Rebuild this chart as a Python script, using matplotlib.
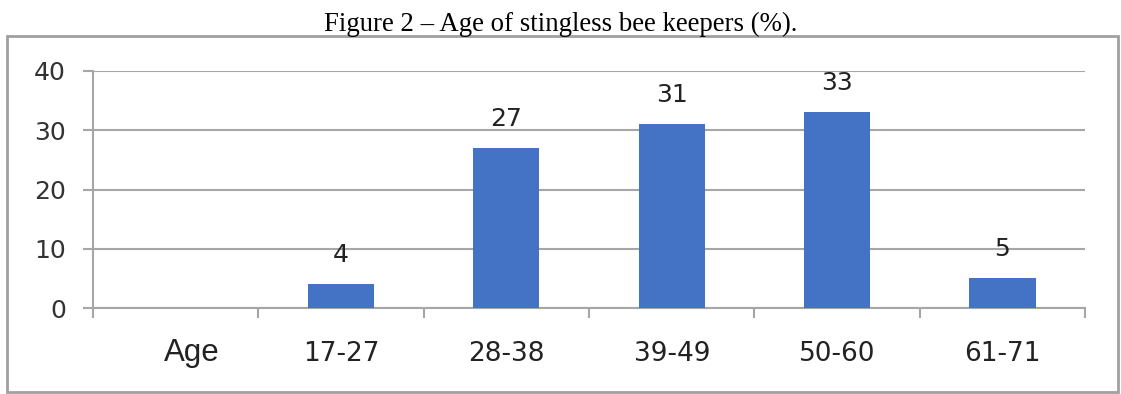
import matplotlib.pyplot as plt
from matplotlib.patches import Rectangle

# Age groups of stingless bee keepers (%)
age_groups = ['17-27', '28-38', '39-49', '50-60', '61-71']
percent = [4, 27, 31, 33, 5]
y_ticks = [0, 10, 20, 30, 40]

bar_color = '#4472C4'
grid_color = '#a6a6a6'

plt.rcParams['font.family'] = 'DejaVu Sans'

fig = plt.figure(figsize=(11.21, 3.94), dpi=100)

# outer frame around the chart
fig.patches.append(Rectangle((0.0062, 0.005), 0.991, 0.904, transform=fig.transFigure,
                             fill=False, edgecolor='#a0a0a0', linewidth=2))

fig.text(0.5, 0.921, 'Figure 2 \u2013 Age of stingless bee keepers (%).',
         ha='center', va='baseline', family='Liberation Serif', fontsize=19.3)

ax = fig.add_axes([0.083, 0.218, 0.885, 0.602])

# first slot is kept for the "Age" caption, bars start at slot 1
x = list(range(1, len(age_groups) + 1))
ax.bar(x, percent, width=0.4, color=bar_color, zorder=3)

for xi, v in zip(x, percent):
    ax.annotate(str(v), (xi, v), xytext=(0, 16), textcoords='offset points',
                ha='center', va='baseline', fontsize=18, color='#222222')

ax.set_xlim(-0.5, len(age_groups) + 0.5)
ax.set_ylim(0, 40)
ax.set_yticks(y_ticks)
ax.tick_params(axis='y', length=7.5, width=1.5, color=grid_color, pad=12,
               labelsize=18, labelcolor='#333333')
ax.grid(axis='y', color=grid_color, linewidth=1.5, zorder=0)

# ticks between categories, labels in the middle
ax.set_xticks([i + 0.5 for i in range(-1, len(age_groups) + 1)])
ax.set_xticklabels([])
ax.tick_params(axis='x', which='major', length=7.5, width=1.5, color=grid_color)
ax.set_xticks(x, minor=True)
ax.set_xticklabels(age_groups, minor=True)
ax.tick_params(axis='x', which='minor', length=0, pad=24, labelsize=19,
               labelcolor='#222222')

ax.text(0.1, -0.19, 'Age', transform=ax.get_xaxis_transform(), ha='center',
        va='center', family='Liberation Sans', fontsize=22.5, color='#222222')

for side in ['top', 'right']:
    ax.spines[side].set_visible(False)
for side in ['left', 'bottom']:
    ax.spines[side].set_color(grid_color)
    ax.spines[side].set_linewidth(1.5)

fig.savefig('out.png', dpi=100)
